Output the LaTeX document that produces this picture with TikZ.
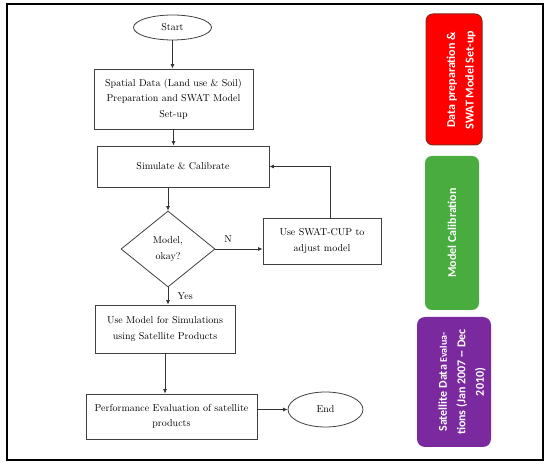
\documentclass[tikz,border=0pt]{standalone}
\usepackage{fontspec}
\newfontfamily\barfont{Carlito}
\usetikzlibrary{positioning, arrows.meta, shapes.geometric}
\definecolor{prepred}{RGB}{255, 0, 0}
\definecolor{prepedge}{RGB}{140, 40, 20}
\definecolor{calibgreen}{RGB}{72, 172, 62}
\definecolor{satpurple}{RGB}{122, 42, 158}

\tikzset{
    flowbox/.style={draw=black!75, line width=0.8pt, align=center,
        inner sep=0pt, font=\fontsize{10}{15.5}\selectfont},
    terminal/.style={flowbox, ellipse},
    decision/.style={flowbox, diamond},
    flowarrow/.style={draw=black!80, line width=0.8pt,
        -{Latex[length=4.5pt, width=4pt]}},
    barlabel/.style={text=white, rotate=90, align=center,
        font=\barfont\bfseries\fontsize{12}{18.5}\selectfont}
}

\begin{document}
\begin{tikzpicture}[x=1pt, y=-1pt]
    \useasboundingbox (0, 0) rectangle (550, 465);
    \fill[white] (0, 0) rectangle (550, 465);
    \draw[line width=1.4pt] (7, 4) rectangle (543, 460);

    % flow chart
    \node[terminal, minimum width=78, minimum height=25] (start)
        at (172.5, 27.5) {Start};
    \node[flowbox, minimum width=159, minimum height=60] (spatial)
        at (173.5, 99) {Spatial Data (Land use \& Soil)\\
        Preparation and SWAT Model\\ Set-up};
    \node[flowbox, minimum width=172, minimum height=41] (sim)
        at (183, 166.5) {Simulate \& Calibrate};
    \node[decision, minimum width=94, minimum height=76] (dec)
        at (168, 249) {Model,\\ okay?};
    \node[flowbox, minimum width=118, minimum height=46] (cup)
        at (322, 241) {Use SWAT-CUP to\\ adjust model};
    \node[flowbox, minimum width=140, minimum height=48] (usem)
        at (165, 329) {Use Model for Simulations\\
        using Satellite Products};
    \node[flowbox, minimum width=171, minimum height=45] (perf)
        at (171.5, 416.5) {Performance Evaluation of satellite\\ products};
    \node[terminal, minimum width=75, minimum height=35] (end)
        at (325.5, 409.5) {End};
    \coordinate (loop) at (330, 165);

    \draw[flowarrow] (start.south) -- (start.south |- spatial.north);
    \draw[flowarrow] (spatial.south) -- (spatial.south |- sim.north);
    \draw[flowarrow] (dec.north |- sim.south) -- (dec.north);
    \draw[flowarrow] (dec.east) -- (dec.east -| cup.west)
        node[pos=0.27, above=3pt, font=\fontsize{10}{12}\selectfont] (no) {N};
    \draw[flowarrow] (cup.north -| loop) |- (sim.east);
    \draw[flowarrow] (dec.south) -- (dec.south |- usem.north)
        node[midway, right=6pt, font=\fontsize{10}{12}\selectfont] (yes) {Yes};
    \draw[flowarrow] (usem.south) -- (usem.south |- perf.north);
    \draw[flowarrow] (perf.east |- end.west) -- (end.west);

    % phase bars
    \filldraw[fill=prepred, draw=prepedge, line width=1pt, rounded corners=7pt]
        (426, 14) rectangle (482, 145);
    \node[barlabel] (prep) at (461, 80)
        {Data preparation \&\\ SWAT Model Set-up};
    \fill[calibgreen, rounded corners=7pt]
        (425, 156) rectangle (479, 310);
    \node[barlabel] (calib) at (452, 233) {Model Calibration};
    \fill[satpurple, rounded corners=8pt]
        (417, 317) rectangle (491, 447);
    \node[barlabel] (sat) at (462, 382)
        {Satellite Data {\fontsize{10}{18.5}\selectfont Evalua-}\\
        tions (Jan 2007 -- Dec\\ 2010)};
\end{tikzpicture}
\end{document}
